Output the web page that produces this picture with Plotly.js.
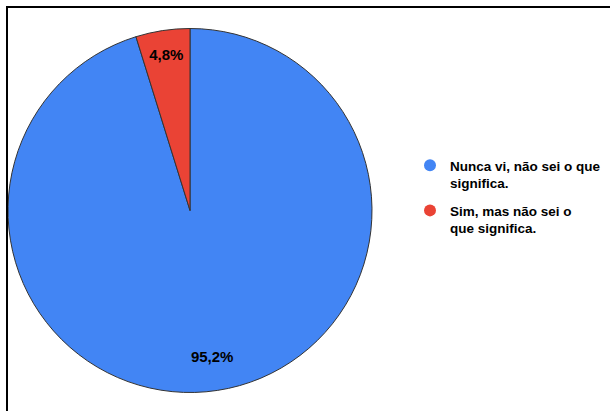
<!DOCTYPE html>
<html>
<head>
<meta charset="utf-8">
<script src="https://cdn.plot.ly/plotly-3.0.1.min.js"></script>
<style>
html,body{margin:0;padding:0;background:#fff;}
#wrap{position:relative;width:610px;height:411px;overflow:hidden;}
#chart{position:absolute;left:0;top:0;width:610px;height:411px;}
#frame{position:absolute;left:6px;top:6px;width:610px;height:420px;border-top:2px solid #000;border-left:2px solid #000;pointer-events:none;}
</style>
</head>
<body>
<div id="wrap"><div id="chart"></div><div id="frame"></div></div>
<script>
var categories = ["Nunca vi, não sei o que significa.", "Sim, mas não sei o que significa."];
var legendLabels = ["Nunca vi, não sei o que<br>significa.", "Sim, mas não sei o<br>que significa."];
var values = [95.2, 4.8];
var valueLabels = ["95,2%", "4,8%"];
var colors = ["#4285F4", "#EA4335"];

var W = 610, H = 411;
var font = "Arial, 'Liberation Sans', sans-serif";
var pieDomain = {x: [8 / W, 372 / W], y: [1 - 393 / H, 1 - 28 / H]};

var traces = [{
  type: "pie",
  labels: categories,
  values: values,
  textinfo: "none",
  sort: false,
  direction: "clockwise",
  rotation: 0,
  showlegend: false,
  marker: {colors: colors, line: {color: "#333", width: 1}},
  hoverinfo: "none",
  domain: pieDomain
}, {
  // transparent ring carrying the percentage labels near the rim
  type: "pie",
  labels: categories,
  values: values,
  text: valueLabels,
  textinfo: "text",
  textposition: "inside",
  insidetextorientation: "horizontal",
  hole: 0.62,
  sort: false,
  direction: "clockwise",
  rotation: 0,
  showlegend: false,
  marker: {colors: ["rgba(0,0,0,0)", "rgba(0,0,0,0)"], line: {width: 0}},
  textfont: {family: font, size: 15, color: "#000", weight: "bold"},
  hoverinfo: "none",
  domain: pieDomain
}];

for (var i = 0; i < categories.length; i++) {
  traces.push({
    type: "scatter",
    x: [null], y: [null],
    mode: "markers",
    name: legendLabels[i],
    legendgroup: "g" + i,
    marker: {symbol: "circle", size: 12, color: colors[i]},
    showlegend: true,
    hoverinfo: "none"
  });
}

var layout = {
  width: W, height: H,
  margin: {l: 0, r: 0, t: 0, b: 0},
  paper_bgcolor: "#fff",
  plot_bgcolor: "#fff",
  xaxis: {visible: false},
  yaxis: {visible: false},
  showlegend: true,
  legend: {
    x: 410 / W, xanchor: "left",
    y: 1 - 150 / H, yanchor: "top",
    valign: "top",
    font: {family: font, size: 13.5, color: "#000", weight: "bold"},
    tracegroupgap: 7,
    bgcolor: "rgba(0,0,0,0)"
  }
};

Plotly.newPlot("chart", traces, layout, {displayModeBar: false, staticPlot: true});
</script>
</body>
</html>
